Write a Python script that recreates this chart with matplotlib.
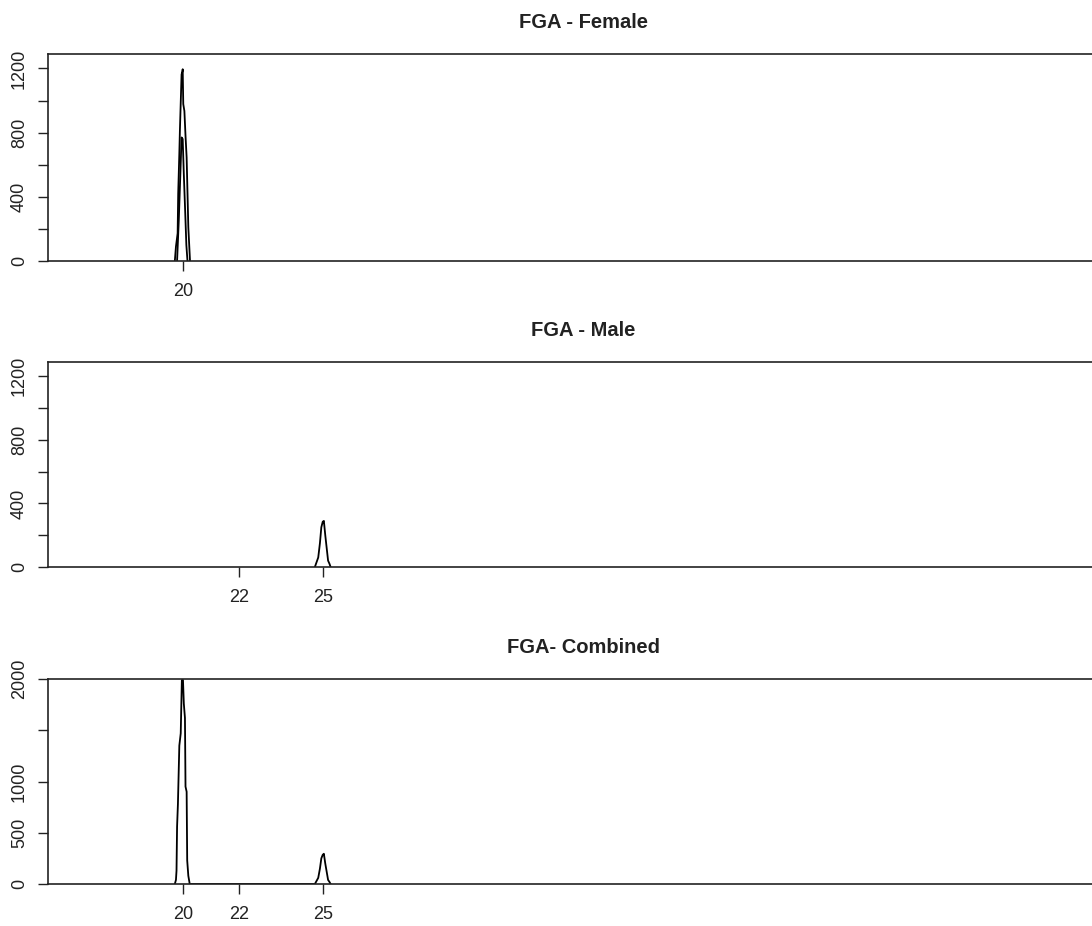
import matplotlib

matplotlib.use("Agg")
import matplotlib.pyplot as plt

plt.rcParams["font.family"] = ["Liberation Sans", "DejaVu Sans"]

# FGA allele peaks (allele, count)
female_x = [19.72, 19.76, 19.82, 19.84, 19.88, 19.90, 19.96, 19.99, 20.00, 20.02, 20.06, 20.10, 20.14, 20.20, 20.26]
female_y = [0, 90, 173, 420, 668, 810, 1163, 1182, 1195, 978, 935, 780, 645, 210, 0]
female_inner_x = [19.80, 19.86, 19.92, 19.96, 20.00, 20.04, 20.09, 20.13, 20.17]
female_inner_y = [0, 250, 560, 770, 760, 540, 300, 100, 0]

male_x = [24.70, 24.76, 24.82, 24.88, 24.93, 24.98, 25.02, 25.07, 25.12, 25.17, 25.22, 25.26]
male_y = [0, 30, 60, 150, 250, 285, 290, 200, 120, 40, 20, 0]

combined_x = [19.72, 19.76, 19.78, 19.80, 19.83, 19.88, 19.93, 19.97, 20.01, 20.04, 20.08,
              20.10, 20.14, 20.16, 20.20, 20.25,
              24.70, 24.76, 24.82, 24.88, 24.93, 24.98, 25.02, 25.07, 25.12, 25.17, 25.22, 25.26]
combined_y = [0, 40, 130, 560, 780, 1350, 1470, 1990, 1990, 1760, 1620,
              950, 900, 230, 80, 0,
              0, 30, 60, 150, 250, 285, 295, 200, 120, 40, 20, 0]

titles = ["FGA - Female", "FGA - Male", "FGA- Combined"]
xticks = [[20], [22, 25], [20, 22, 25]]
yticks = [[0, 200, 400, 600, 800, 1000, 1200],
          [0, 200, 400, 600, 800, 1000, 1200],
          [0, 500, 1000, 1500, 2000]]
ylabels = [["0", "", "400", "", "800", "", "1200"],
           ["0", "", "400", "", "800", "", "1200"],
           ["0", "500", "1000", "", "2000"]]
ymax = [1290, 1290, 2000]

W, H = 1092, 926
fig = plt.figure(figsize=(W / 100, H / 100), dpi=100)

# panel boxes in pixels: (top, bottom)
boxes = [(54, 261), (362, 567), (679, 884)]
left_px, right_px = 47.5, 1119
px_per_unit, x20_px = 28.12, 182.7
xmin = 20 - (x20_px - left_px) / px_per_unit
xmax = 20 + (right_px - x20_px) / px_per_unit

axes = []
for (top, bot) in boxes:
    ax = fig.add_axes([left_px / W, 1 - bot / H, (right_px - left_px) / W, (bot - top) / H])
    axes.append(ax)

series = [
    [(female_x, female_y), (female_inner_x, female_inner_y)],
    [(male_x, male_y)],
    [(combined_x, combined_y)],
]

for i, ax in enumerate(axes):
    for xs, ys in series[i]:
        ax.plot(xs, ys, color="black", linewidth=1.3)
    ax.set_xlim(xmin, xmax)
    ax.set_ylim(0, ymax[i])
    ax.set_xticks(xticks[i])
    ax.set_xticklabels([str(t) for t in xticks[i]])
    ax.set_yticks(yticks[i])
    ax.set_yticklabels(ylabels[i], rotation=90, va="center")
    ax.tick_params(axis="both", direction="out", length=7, width=1.0,
                   labelsize=13, colors="#222222")
    ax.tick_params(axis="y", pad=7)
    ax.tick_params(axis="x", pad=9)
    for side in ("left", "top", "bottom"):
        ax.spines[side].set_linewidth(1.2)
        ax.spines[side].set_color("#222222")
    ax.spines["right"].set_visible(False)
    ax.set_title(titles[i], fontsize=14.5, fontweight="bold", pad=19, color="#222222")

fig.savefig("out.png", dpi=100)
